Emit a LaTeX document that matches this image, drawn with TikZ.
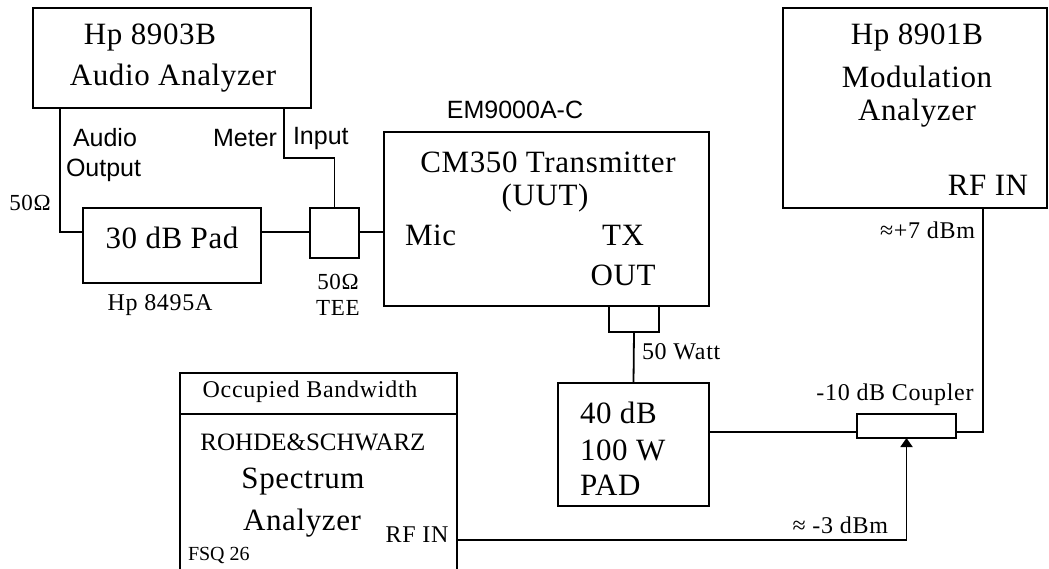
\documentclass[tikz,border=0pt]{standalone}
\usepackage{fontspec}
\setmainfont{Liberation Serif}
\newfontfamily\sansf{Liberation Sans}
\usetikzlibrary{arrows.meta}
\begin{document}
\begin{tikzpicture}[x=1pt,y=-1pt,
  line width=1.8pt,
  box/.style={draw,line width=1.8pt,inner sep=0pt,outer sep=0pt},
  lbl/.style={inner sep=0pt,outer sep=0pt},
  big/.style={lbl,font=\fontsize{31}{35}\selectfont\addfontfeature{LetterSpace=2}},
  mid/.style={lbl,font=\fontsize{24}{28}\selectfont\addfontfeature{LetterSpace=3}},
  sml/.style={lbl,font=\fontsize{23}{27}\selectfont\addfontfeature{LetterSpace=3}},
  sns/.style={lbl,font=\sansf\fontsize{25}{29}\selectfont}]
\useasboundingbox[fill=white] (0,0) rectangle (1049,569);

% boxes
\node[box,minimum width=278pt,minimum height=100pt] (aa) at (172,58) {};
\node[box,minimum width=178pt,minimum height=75pt] (pad) at (172,245.5) {};
\node[box,minimum width=49pt,minimum height=50pt] (tee) at (334.5,233) {};
\node[box,minimum width=325pt,minimum height=174pt] (tx) at (546.5,219) {};
\node[box,minimum width=50pt,minimum height=26pt] (txc) at (634,319) {};
\node[box,minimum width=264pt,minimum height=200pt] (ma) at (915,108) {};
\node[box,minimum width=151pt,minimum height=123pt] (pad40) at (633.5,444.5) {};
\node[box,minimum width=99pt,minimum height=24pt] (cpl) at (906.5,426) {};
% spectrum analyzer (open at the bottom of the picture)
\coordinate (saTL) at (180,373);
\coordinate (saTR) at (457,373);
\coordinate (saBL) at (180,569);
\coordinate (saBR) at (457,569);
\coordinate (saHL) at (180,414);
\coordinate (saHR) at (457,414);
\draw (saBL) -- (saTL) -- (saTR) -- (saBR);
\draw (saHL) -- (saHR);

% connector coordinates
\coordinate (aox) at (60,232);
\coordinate (mi) at (284,158);
\coordinate (cy) at (0,432);
\coordinate (rfx) at (983,0);
\coordinate (sae) at (457,540);

% connectors
\draw (aa.south -| aox) -- (aox) -- (pad.west |- aox);
\draw (aa.south -| mi) -- (mi) -| (tee.north);
\draw (pad.east |- aox) -- (tee.west |- aox);
\draw (tee.east |- aox) -- (tx.west |- aox);
\draw (txc.south) -- (pad40.north);
\draw (pad40.east |- cy) -- (cpl.west |- cy);
\draw (cpl.east |- cy) -| (ma.south -| rfx);
\draw[-{Triangle[width=12pt,length=9pt]}] (sae) -| (cpl.south);

% labels
\node[big] (t1) at (150,37) {Hp 8903B};
\node[big] (t2) at (173,78) {Audio Analyzer};
\node[sns,anchor=west] (t3) at (73,138) {Audio};
\node[sns,anchor=west] (t4) at (66,170) {Output};
\node[sns,anchor=east] (t5) at (277,138) {Meter};
\node[sns,anchor=west] (t6) at (293,138) {Input};
\node[sml] (t7) at (30,203) {50Ω};
\node[big] (t8) at (172,238) {30 dB Pad};
\node[mid] (t9) at (160,305) {Hp 8495A};
\node[sml] (t10) at (338,282) {50Ω};
\node[sml] (t11) at (338,308) {TEE};
\node[sns] (t12) at (515,110) {EM9000A-C};
\node[big] (t13) at (548,162) {CM350 Transmitter};
\node[big] (t14) at (545,198) {(UUT)};
\node[big,anchor=west] (t15) at (405,235) {Mic};
\node[big] (t16) at (623,235) {TX};
\node[big] (t17) at (623,275) {OUT};
\node[mid,anchor=west] (t18) at (642,352) {50 Watt};
\node[big] (t19) at (917,37) {Hp 8901B};
\node[big] (t20) at (917,77) {Modulation};
\node[big] (t21) at (917,113) {Analyzer};
\node[big] (t22) at (988,185) {RF IN};
\node[mid,anchor=east] (t23) at (975,230) {≈+7 dBm};
\node[big,anchor=west] (t24) at (580,413) {40 dB};
\node[big,anchor=west] (t25) at (580,450) {100 W};
\node[big,anchor=west] (t26) at (580,485) {PAD};
\node[mid] (t27) at (895,395) {-10 dB Coupler};
\node[mid,anchor=east] (t28) at (888,525) {≈ -3 dBm};
\node[mid] (t29) at (310,392) {Occupied Bandwidth};
\node[lbl,font=\fontsize{25}{29}\selectfont] (t30) at (313,442) {ROHDE\&SCHWARZ};
\node[big] (t31) at (303,482) {Spectrum};
\node[big] (t32) at (302,523) {Analyzer};
\node[mid] (t33) at (417,535) {RF IN};
\node[lbl,font=\fontsize{20}{24}\selectfont,anchor=west] (t34) at (188,555) {FSQ 26};
\end{tikzpicture}
\end{document}
